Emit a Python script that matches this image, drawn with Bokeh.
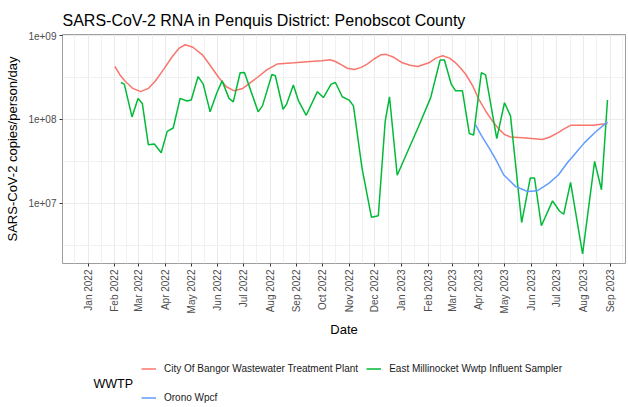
import math
import numpy as np
import pandas as pd
from bokeh.plotting import figure
from bokeh.layouts import column
from bokeh.models import (Range1d, FixedTicker, CustomJSTickFormatter, Legend,
                          LegendItem, Label)
from bokeh.embed import file_html
from bokeh.resources import INLINE

# ---------------- data (copies/person/day) ----------------
bangor_dates = [
    "2022-02-01", "2022-02-07", "2022-02-13", "2022-02-22", "2022-03-03", "2022-03-12",
    "2022-03-20", "2022-03-30", "2022-04-09", "2022-04-17", "2022-04-24", "2022-05-03",
    "2022-05-14", "2022-05-24", "2022-06-02", "2022-06-11", "2022-06-20", "2022-06-30",
    "2022-07-09", "2022-07-17", "2022-07-28", "2022-08-09", "2022-08-29", "2022-09-17",
    "2022-09-30", "2022-10-10", "2022-10-16", "2022-10-22", "2022-10-30", "2022-11-07",
    "2022-11-15", "2022-11-22", "2022-11-30", "2022-12-08", "2022-12-14", "2022-12-23",
    "2023-01-02", "2023-01-11", "2023-01-20", "2023-02-02", "2023-02-10", "2023-02-18",
    "2023-02-26", "2023-03-05", "2023-03-11", "2023-03-17", "2023-03-25", "2023-04-01",
    "2023-04-09", "2023-04-17", "2023-04-24", "2023-05-01", "2023-05-08", "2023-05-22",
    "2023-06-05", "2023-06-14", "2023-06-23", "2023-07-02", "2023-07-10", "2023-07-17",
    "2023-07-30", "2023-08-12", "2023-08-29",
]
bangor_values = [
    4.27e8, 3.39e8, 2.85e8, 2.34e8, 2.14e8, 2.34e8,
    2.85e8, 3.98e8, 5.62e8, 7.08e8, 7.76e8, 7.24e8,
    5.89e8, 4.27e8, 3.16e8, 2.45e8, 2.19e8, 2.34e8,
    2.75e8, 3.16e8, 3.89e8, 4.57e8, 4.73e8, 4.90e8,
    5.01e8, 5.13e8, 4.90e8, 4.52e8, 4.07e8, 3.94e8,
    4.17e8, 4.57e8, 5.25e8, 5.89e8, 5.96e8, 5.50e8,
    4.73e8, 4.42e8, 4.27e8, 4.73e8, 5.37e8, 5.75e8,
    5.37e8, 4.73e8, 4.07e8, 3.43e8, 2.51e8, 1.74e8,
    1.26e8, 9.55e7, 7.76e7, 6.61e7, 6.17e7, 6.03e7,
    5.89e7, 5.75e7, 6.17e7, 6.92e7, 7.76e7, 8.51e7,
    8.51e7, 8.51e7, 8.91e7,
]

millinocket_dates = [
    "2022-02-08", "2022-02-12", "2022-02-21", "2022-02-28", "2022-03-05", "2022-03-12",
    "2022-03-19", "2022-03-27", "2022-04-03", "2022-04-10", "2022-04-18", "2022-04-26",
    "2022-05-01", "2022-05-09", "2022-05-15", "2022-05-23", "2022-05-31", "2022-06-06",
    "2022-06-14", "2022-06-19", "2022-06-27", "2022-07-02", "2022-07-18", "2022-07-23",
    "2022-08-03", "2022-08-07", "2022-08-16", "2022-08-20", "2022-08-28", "2022-09-03",
    "2022-09-12", "2022-09-25", "2022-10-02", "2022-10-11", "2022-10-16", "2022-10-24",
    "2022-11-01", "2022-11-06", "2022-11-16", "2022-11-27", "2022-12-05", "2022-12-13",
    "2022-12-18", "2022-12-27", "2023-01-21", "2023-02-04", "2023-02-15", "2023-02-20",
    "2023-02-28", "2023-03-05", "2023-03-13", "2023-03-21", "2023-03-26", "2023-04-04",
    "2023-04-09", "2023-04-22", "2023-05-01", "2023-05-08", "2023-05-21", "2023-05-31",
    "2023-06-05", "2023-06-13", "2023-06-26", "2023-07-04", "2023-07-09", "2023-07-17",
    "2023-07-31", "2023-08-14", "2023-08-22", "2023-08-29",
]
millinocket_values = [
    2.75e8, 2.63e8, 1.07e8, 1.78e8, 1.55e8, 5.0e7,
    5.1e7, 4.0e7, 7.2e7, 7.9e7, 1.78e8, 1.66e8,
    1.70e8, 3.24e8, 2.63e8, 1.23e8, 2.09e8, 2.88e8,
    1.78e8, 1.62e8, 3.60e8, 3.63e8, 1.23e8, 1.45e8,
    3.43e8, 3.31e8, 1.32e8, 1.51e8, 2.57e8, 1.66e8,
    1.12e8, 2.14e8, 1.82e8, 2.63e8, 2.75e8, 1.86e8,
    1.70e8, 1.45e8, 2.63e7, 6.8e6, 7.1e6, 9.5e7,
    1.86e8, 2.16e7, 8.3e7, 1.82e8, 5.1e8, 5.1e8,
    2.63e8, 2.19e8, 2.19e8, 6.8e7, 6.5e7, 3.60e8,
    3.40e8, 5.9e7, 1.58e8, 1.10e8, 5.9e6, 2.0e7,
    2.0e7, 5.4e6, 1.07e7, 8.1e6, 7.4e6, 1.78e7,
    2.5e6, 3.16e7, 1.45e7, 1.70e8,
]

orono_dates = [
    "2023-03-28", "2023-04-04", "2023-04-13", "2023-04-21", "2023-04-30", "2023-05-14",
    "2023-05-21", "2023-05-28", "2023-06-08", "2023-06-22", "2023-07-03", "2023-07-13",
    "2023-07-23", "2023-08-02", "2023-08-15", "2023-08-29",
]
orono_values = [
    8.71e7, 6.46e7, 4.57e7, 3.31e7, 2.19e7, 1.58e7,
    1.48e7, 1.38e7, 1.41e7, 1.74e7, 2.19e7, 3.02e7,
    3.98e7, 5.25e7, 7.08e7, 9.33e7,
]

series_names = ["City Of Bangor Wastewater Treatment Plant",
                "East Millinocket Wwtp Influent Sampler",
                "Orono Wpcf"]
series_colors = ["#F8766D", "#00BA38", "#619CFF"]
legend_title = "WWTP"

month_ticks = pd.date_range("2022-01-01", "2023-09-01", freq="MS")
y_ticks = [1e7, 1e8, 1e9]
y_minor = [10 ** 6.5, 10 ** 7.5, 10 ** 8.5]

FONT = "Liberation Sans"


def ms(d):
    return pd.Timestamp(d).value / 1e6


major_ms = [ms(t) for t in month_ticks]
edges = [ms("2021-12-01")] + major_ms + [ms("2023-10-01")]
minor_ms = [(a + b) / 2 for a, b in zip(edges[:-1], edges[1:])]

MAIN_H = 342
LEG_H = 407 - MAIN_H

p = figure(width=628, height=MAIN_H, x_axis_type="datetime", y_axis_type="log",
           x_range=Range1d(ms("2021-12-02"), ms("2023-09-19")),
           y_range=Range1d(10 ** 6.2825, 10 ** 9.012),
           output_backend="svg", toolbar_location=None,
           min_border_left=62, min_border_right=3, min_border_top=34,
           min_border_bottom=MAIN_H - 263, background_fill_color="white",
           border_fill_color="white")

p.title.text = "SARS-CoV-2 RNA in Penquis District: Penobscot County"
p.title.text_font = FONT
p.title.text_font_size = "16px"
p.title.text_font_style = "normal"
p.title.text_color = "black"
p.title.align = "left"
p.title.standoff = 11

p.outline_line_color = "#9E9E9E"
p.outline_line_width = 1

xt = FixedTicker(ticks=major_ms, minor_ticks=minor_ms)
yt = FixedTicker(ticks=y_ticks, minor_ticks=y_minor)
p.xaxis.ticker = xt
p.yaxis.ticker = yt
p.xgrid.ticker = xt
p.ygrid.ticker = yt

p.xaxis.formatter = CustomJSTickFormatter(code="""
const m = ["Jan","Feb","Mar","Apr","May","Jun","Jul","Aug","Sep","Oct","Nov","Dec"];
const d = new Date(tick);
return m[d.getUTCMonth()] + " " + d.getUTCFullYear();
""")
p.yaxis.formatter = CustomJSTickFormatter(code="""
const e = Math.round(Math.log10(tick));
return "1e+" + (e < 10 ? "0" + e : "" + e);
""")

for g in (p.xgrid[0], p.ygrid[0]):
    g.grid_line_color = "#EBEBEB"
    g.grid_line_width = 1.1
    g.minor_grid_line_color = "#F1F1F1"
    g.minor_grid_line_width = 1

for ax in (p.xaxis[0], p.yaxis[0]):
    ax.axis_line_color = None
    ax.major_tick_line_color = "#333333"
    ax.major_tick_out = 3
    ax.major_tick_in = 0
    ax.minor_tick_line_color = None
    ax.major_label_text_font = FONT
    ax.major_label_text_font_size = "10px"
    ax.major_label_text_color = "#4D4D4D"
    ax.major_label_standoff = 2
    ax.axis_label_text_font = FONT
    ax.axis_label_text_font_size = "13px"
    ax.axis_label_text_font_style = "normal"
    ax.axis_label_text_color = "black"

p.xaxis.axis_label = "Date"
p.yaxis.axis_label = "SARS-CoV-2 copies/person/day"
p.xaxis.major_label_orientation = math.pi / 2
p.xaxis.axis_label_standoff = 6
p.yaxis.axis_label_standoff = 5

all_dates = [bangor_dates, millinocket_dates, orono_dates]
all_values = [bangor_values, millinocket_values, orono_values]
for dts, vals, col in zip(all_dates, all_values, series_colors):
    p.line(pd.to_datetime(dts), vals, line_color=col, line_width=1.5)

# ---------------- legend strip (separate figure below; frames aligned) ----------------
q = figure(width=628, height=LEG_H, x_range=Range1d(0, 1), y_range=Range1d(0, 1),
           output_backend="svg", toolbar_location=None,
           min_border_left=62, min_border_right=3, min_border_top=0,
           min_border_bottom=0, outline_line_color=None,
           background_fill_color="white", border_fill_color="white")
q.axis.visible = False
q.grid.visible = False

# key-only renderers (no visible data) so the legend can draw its line keys
key_renderers = [q.line(x=[np.nan, np.nan], y=[np.nan, np.nan], line_color=c,
                        line_width=1.5) for c in series_colors]

legend = Legend(items=[LegendItem(label=n, renderers=[r])
                       for n, r in zip(series_names, key_renderers)],
                location=(79, -1), orientation="horizontal", ncols=2,
                padding=0, margin=0, spacing=8, glyph_width=15, glyph_height=21,
                label_height=21, label_standoff=8,
                label_text_font=FONT, label_text_font_size="10px",
                label_text_color="#1A1A1A",
                border_line_color=None, background_fill_alpha=0)
q.add_layout(legend)

q.add_layout(Label(x=31, y=LEG_H - 383 + MAIN_H, x_units="screen", y_units="screen",
                   text=legend_title, text_font=FONT, text_font_size="12.5px",
                   text_color="black", text_baseline="middle", text_align="left"))

layout = column(p, q, spacing=0)
open("out.html", "w").write(file_html(layout, INLINE))
